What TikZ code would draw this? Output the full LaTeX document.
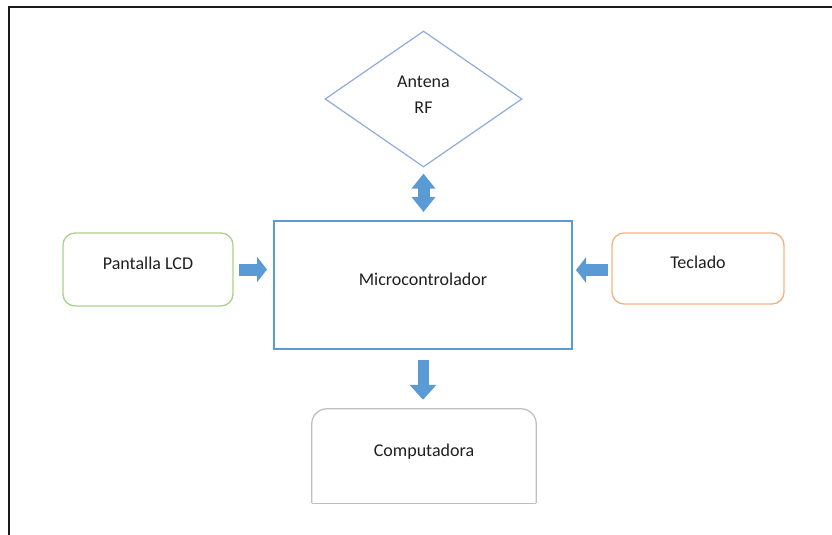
\documentclass[tikz,border=0pt]{standalone}
\usepackage{fontspec}
\setmainfont{Carlito}
\usetikzlibrary{shapes.geometric,arrows.meta}
\definecolor{boxblue}{HTML}{5B9BD5}
\definecolor{diablue}{HTML}{8FAADC}
\definecolor{lcdgreen}{HTML}{A9D18E}
\definecolor{tecorange}{HTML}{F4B183}
\definecolor{compgray}{HTML}{BFBFBF}
\definecolor{txtgray}{HTML}{1F1F1F}
\definecolor{framegray}{HTML}{1A1A1A}
\begin{document}
\begin{tikzpicture}[x=1pt,y=-1pt,
  every node/.style={font=\fontsize{18}{21}\selectfont, text=txtgray, inner sep=0pt},
  zerotext/.style={text height=0pt, text depth=0pt},
  hblk/.style={line width=12pt, draw=boxblue, -{Triangle[width=25pt,length=10pt]}},
  vblk/.style={line width=12pt, draw=boxblue, {Triangle[width=23pt,length=15pt]}-{Triangle[width=23pt,length=15pt]}},
  dblk/.style={line width=11pt, draw=boxblue, -{Triangle[width=26pt,length=15pt]}}]
\useasboundingbox (0,0) rectangle (832,535);
% frame
\draw[framegray, line width=2pt] (9,536) -- (9,7) -- (833,7);
% nodes
\node[draw=diablue, line width=1.2pt, diamond, minimum width=197pt, minimum height=136pt] (ant) at (423.5,99) {};
\node[zerotext] (antA) at ([yshift=11pt]ant.center) {Antena};
\node[zerotext] (antB) at ([yshift=-14pt]ant.center) {RF};
\node[draw=boxblue, line width=2pt, rectangle, minimum width=298pt, minimum height=128pt, zerotext] (micro) at (423,285) {Microcontrolador};
\node[draw=lcdgreen, line width=1.3pt, rounded corners=12pt, minimum width=170pt, minimum height=73pt, zerotext] (lcd) at (148,269.5) {Pantalla LCD};
\node[draw=tecorange, line width=1.3pt, rounded corners=12pt, minimum width=172pt, minimum height=71pt, zerotext] (tec) at (698,268.5) {Teclado};
\node[minimum width=224pt, minimum height=94pt, zerotext] (comp) at (424,456) {Computadora};
\draw[compgray, line width=1.3pt, rounded corners=15pt] (comp.south west) -- (comp.north west) -- (comp.north east) -- (comp.south east);
\draw[compgray, line width=1.3pt] (comp.south west) -- (comp.south east);
% block arrows
\draw[hblk] ([xshift=5pt]lcd.east) -- ([xshift=-6pt]lcd.east -| micro.west);
\draw[hblk] ([xshift=-3pt,yshift=-1.5pt]tec.west) -- ([xshift=3pt,yshift=-1.5pt]tec.west -| micro.east);
\draw[vblk] ([yshift=-6pt]ant.south) -- ([yshift=8pt]ant.south |- micro.north);
\draw[dblk] ([yshift=-10pt]micro.south) -- ([yshift=9pt]micro.south |- comp.north);
\end{tikzpicture}
\end{document}
